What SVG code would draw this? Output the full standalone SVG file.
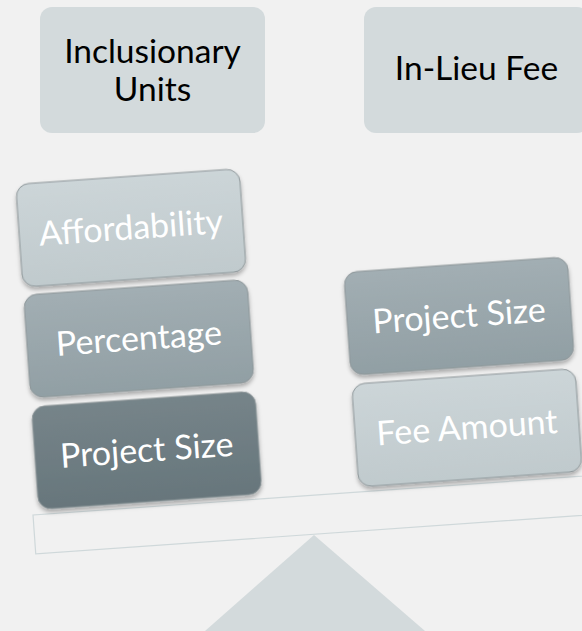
<svg xmlns="http://www.w3.org/2000/svg" width="582" height="631" viewBox="0 0 582 631">
  <defs>
    <linearGradient id="gLight" x1="0" y1="0" x2="0" y2="1">
      <stop offset="0" stop-color="#ccd5d8"/>
      <stop offset="1" stop-color="#c0cacd"/>
    </linearGradient>
    <linearGradient id="gMid" x1="0" y1="0" x2="0" y2="1">
      <stop offset="0" stop-color="#a2aeb3"/>
      <stop offset="1" stop-color="#919fa4"/>
    </linearGradient>
    <linearGradient id="gDark" x1="0" y1="0" x2="0" y2="1">
      <stop offset="0" stop-color="#768489"/>
      <stop offset="1" stop-color="#67767c"/>
    </linearGradient>
    <filter id="shadow" x="-10%" y="-10%" width="120%" height="130%">
      <feDropShadow dx="0" dy="3" stdDeviation="2" flood-color="#000" flood-opacity="0.3"/>
    </filter>
  </defs>
  <style>
    .hdr { fill: #d3dadc; }
    .htxt { font-family: Lato, "Open Sans", sans-serif; font-size: 33.5px; fill: #000; text-anchor: middle; }
    .box { stroke: #8d9699; stroke-width: 1; filter: url(#shadow); }
    .btxt { font-family: Lato, "Open Sans", sans-serif; font-size: 34px; fill: #fff; text-anchor: middle; }
    .beam { fill: none; stroke: #cfd8da; stroke-width: 1.2; }
    .fulcrum { fill: #d3dadc; }
  </style>
  <rect x="0" y="0" width="582" height="631" fill="#f1f1f1"/>

  <g id="header-inclusionary">
    <rect class="hdr" x="40" y="7" width="225" height="126" rx="12"/>
    <text class="htxt" x="152.5" y="63">Inclusionary</text>
    <text class="htxt" x="152.5" y="101">Units</text>
  </g>
  <g id="header-inlieu">
    <rect class="hdr" x="364" y="7" width="225" height="126" rx="12"/>
    <text class="htxt" x="476.5" y="80">In-Lieu Fee</text>
  </g>

  <g id="fulcrum">
    <polygon class="fulcrum" points="314,535 205,631 425,631"/>
  </g>

  <g transform="translate(33,515) rotate(-4.04)">
    <g id="beam">
      <rect class="beam" x="0" y="0" width="620" height="39"/>
    </g>
    <g id="left-project-size">
      <rect class="box" x="6" y="-108" width="224" height="103" rx="13" fill="url(#gDark)"/>
      <text class="btxt" x="118" y="-45">Project Size</text>
    </g>
    <g id="left-percentage">
      <rect class="box" x="6" y="-220" width="224" height="103" rx="13" fill="url(#gMid)"/>
      <text class="btxt" x="118" y="-157">Percentage</text>
    </g>
    <g id="left-affordability">
      <rect class="box" x="6" y="-331" width="224" height="103" rx="13" fill="url(#gLight)"/>
      <text class="btxt" x="118" y="-268">Affordability</text>
    </g>
    <g id="right-fee-amount">
      <rect class="box" x="327" y="-108" width="224" height="103" rx="13" fill="url(#gLight)"/>
      <text class="btxt" x="439" y="-45">Fee Amount</text>
    </g>
    <g id="right-project-size">
      <rect class="box" x="327" y="-220" width="224" height="103" rx="13" fill="url(#gMid)"/>
      <text class="btxt" x="439" y="-157">Project Size</text>
    </g>
  </g>
</svg>
